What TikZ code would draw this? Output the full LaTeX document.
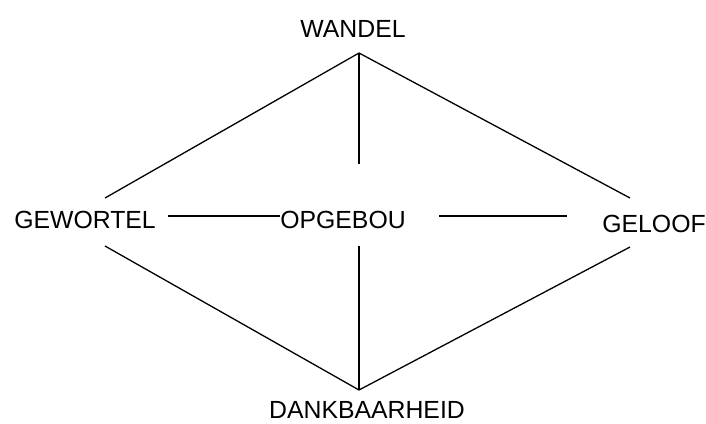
\documentclass[tikz,border=0pt]{standalone}
\usepackage{fontspec}
\setmainfont{Liberation Sans}
\begin{document}
\begin{tikzpicture}[x=1pt,y=-1pt,
  lbl/.style={inner sep=0pt, anchor=base, font=\fontsize{24.8}{28}\selectfont},
  conn/.style={line width=1.3pt, line cap=butt}]
\useasboundingbox (0,0) rectangle (706,423);
% labels
\node[lbl] (wandel) at (353,37) {WANDEL};
\node[lbl] (gewortel) at (85,228) {GEWORTEL};
\node[lbl] (opgebou) at (343,228) {OPGEBOU};
\node[lbl] (geloof) at (654,232) {GELOOF};
\node[lbl] (dank) at (367,418) {DANKBAARHEID};
% connector end points
\coordinate (top) at (359,53);
\coordinate (bot) at (359,390);
\coordinate (lu) at (105,198);
\coordinate (ll) at (105,246);
\coordinate (ru) at (630,198);
\coordinate (rl) at (630,247);
\coordinate (cu) at (359,164);
\coordinate (cl) at (359,246);
\coordinate (hl1) at (168,216);
\coordinate (hl2) at (280,216);
\coordinate (hr1) at (439,216);
\coordinate (hr2) at (567,216);
% connectors
\draw[conn] (lu) -- (top) -- (ru);
\draw[conn] (top) -- (cu);
\draw[conn] (ll) -- (bot) -- (rl);
\draw[conn] (cl) -- (bot);
\draw[conn] (hl1) -- (hl2);
\draw[conn] (hr1) -- (hr2);
\end{tikzpicture}
\end{document}
